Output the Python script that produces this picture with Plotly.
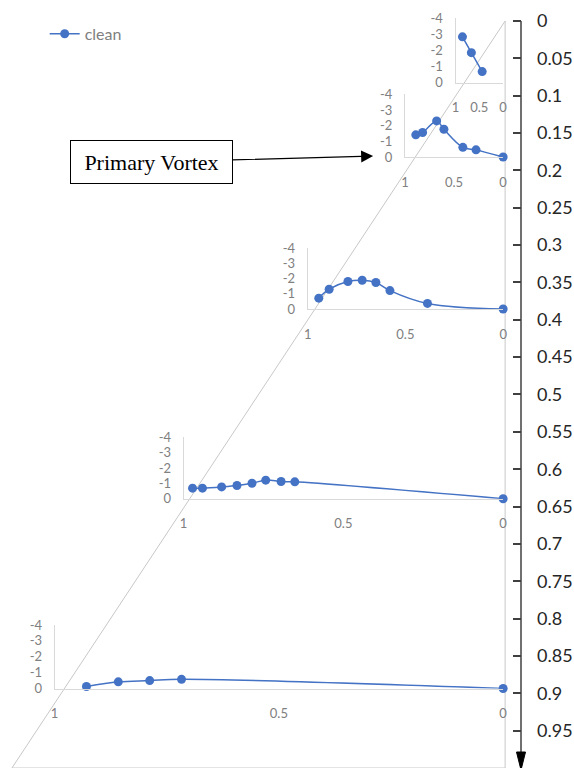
import plotly.graph_objects as go

# Spanwise pressure distributions (-Cp vs. y/s) at five chord stations
span_1 = [0.854, 0.667, 0.44]
cp_1 = [-2.83, -1.85, -0.68]

span_2 = [0.889, 0.82, 0.677, 0.603, 0.41, 0.276, 0.0]
cp_2 = [-1.42, -1.57, -2.31, -1.78, -0.62, -0.46, 0.0]

span_3 = [0.943, 0.890, 0.794, 0.721, 0.651, 0.579, 0.387, 0.0]
cp_3 = [-0.72, -1.31, -1.82, -1.90, -1.75, -1.22, -0.37, 0.0]

span_4 = [0.972, 0.941, 0.881, 0.833, 0.786, 0.743, 0.695, 0.652, 0.0]
cp_4 = [-0.69, -0.69, -0.77, -0.86, -1.01, -1.21, -1.12, -1.10, 0.0]

span_5 = [0.929, 0.858, 0.788, 0.717, 0.0]
cp_5 = [-0.125, -0.42, -0.50, -0.58, 0.0]

series_name = "clean"

# Delta-wing planform outline (apex, leading-edge tip, trailing-edge root)
planform_x = [0, 1, 0, 0]
planform_y = [0, 1, 1, 0]

# Chordwise axis ticks
chord_ticks = [round(0.05 * i, 2) for i in range(21)]

# Inset tick labels
cp_tickvals = [0, -1, -2, -3, -4]
cp_ticktext = ["0", "-1", "-2", "-3", "-4"]
span_tickvals = [1, 0.5, 0]
span_ticktext = ["1", "0.5", "0"]

# ---------------------------------------------------------------- layout
W, H = 574, 776
M_L, M_R, M_T, M_B = 0, 53, 15, 3
PW = W - M_L - M_R          # plot width in px
PH = H - M_T - M_B          # plot height in px


def paper_x(px):
    return (px - M_L) / PW


def paper_y(py):
    return (H - M_B - py) / PH


# Inset frames in page pixels: (left, right, top, bottom)
inset_boxes = [
    (455, 503, 18, 83),
    (404, 503, 95, 158),
    (306, 503, 250, 311),
    (181, 503, 440, 502),
    (51, 503, 629, 693),
]

BLUE = "#4472C4"
GREY_TXT = "#808080"
GREY_LINE = "#d9d9d9"
AXIS_DARK = "#404040"
TICK_FONT = dict(family="Lato", size=18, color="#262626")

fig = go.Figure()

# Planform outline on the main axes
fig.add_trace(go.Scatter(
    x=planform_x, y=planform_y, mode="lines",
    line=dict(color="#c8c8c8", width=1),
    hoverinfo="skip", showlegend=False,
    xaxis="x", yaxis="y",
))

series = [(span_1, cp_1), (span_2, cp_2), (span_3, cp_3),
          (span_4, cp_4), (span_5, cp_5)]

for i, (sx, sy) in enumerate(series):
    k = i + 2
    fig.add_trace(go.Scatter(
        x=sx, y=sy, mode="lines+markers",
        name=series_name, showlegend=(i == 0),
        line=dict(color=BLUE, width=1.5, shape="spline", smoothing=1.0),
        marker=dict(color=BLUE, size=9),
        cliponaxis=False,
        xaxis=f"x{k}", yaxis=f"y{k}",
    ))

layout = dict(
    width=W, height=H,
    margin=dict(l=M_L, r=M_R, t=M_T, b=M_B, pad=0),
    paper_bgcolor="white", plot_bgcolor="rgba(0,0,0,0)",
    font=dict(family="Lato", color=GREY_TXT),
    showlegend=True,
    legend=dict(
        x=paper_x(41), y=paper_y(34), xanchor="left", yanchor="middle",
        font=dict(family="Lato", size=16, color=GREY_TXT),
        bgcolor="rgba(0,0,0,0)",
    ),
    xaxis=dict(
        domain=[0, 1], range=[1.0161, -0.0322],
        visible=False, fixedrange=True,
    ),
    yaxis=dict(
        domain=[0, 1], range=[1, -0.008],
        side="right", showline=False, showgrid=False, zeroline=False,
        tickmode="array", tickvals=chord_ticks,
        ticktext=[("%g" % v) for v in chord_ticks],
        ticks="inside", ticklen=8, tickwidth=1.5, tickcolor=AXIS_DARK,
        ticklabelstandoff=15,
        tickfont=TICK_FONT,
    ),
)

for i, (l, r, t, b) in enumerate(inset_boxes):
    k = i + 2
    layout[f"xaxis{k}"] = dict(
        domain=[paper_x(l), paper_x(r)], range=[1, 0], anchor=f"y{k}",
        showline=True, linecolor=GREY_LINE, linewidth=1,
        showgrid=False, zeroline=False, ticks="",
        tickmode="array", tickvals=span_tickvals, ticktext=span_ticktext,
        ticklabelstandoff=13,
        tickfont=dict(family="Lato", size=13, color=GREY_TXT),
    )
    layout[f"yaxis{k}"] = dict(
        domain=[paper_y(b), paper_y(t)], range=[0, -4], anchor=f"x{k}",
        showline=True, linecolor=GREY_LINE, linewidth=1,
        showgrid=False, zeroline=False, ticks="",
        tickmode="array", tickvals=cp_tickvals, ticktext=cp_ticktext,
        ticklabelstandoff=9,
        tickfont=dict(family="Lato", size=13, color=GREY_TXT),
    )

fig.update_layout(**layout)

# Main chordwise axis line with an arrowhead at the trailing edge
fig.add_shape(type="line", xref="paper", yref="y",
              x0=1, x1=1, y0=0, y1=1,
              line=dict(color=AXIS_DARK, width=1.5))
fig.add_shape(type="path", xref="paper", yref="y",
              xsizemode="pixel", ysizemode="pixel",
              xanchor=1, yanchor=1,
              path="M-4.5,16 L4.5,16 L0,-2 Z",
              fillcolor="black", line=dict(color="black", width=1))

# Callout box
fig.add_annotation(
    xref="paper", yref="paper",
    x=paper_x(372), y=paper_y(157),
    ax=150.5 - 372, ay=163 - 157,
    text="Primary Vortex",
    font=dict(family="Liberation Serif", size=22, color="black"),
    showarrow=True, arrowhead=2, arrowsize=2, arrowwidth=1.2,
    arrowcolor="black", standoff=0,
    bordercolor="black", borderwidth=1, borderpad=0,
    bgcolor="white", width=161, height=42,
)

fig.write_html("out.html")
